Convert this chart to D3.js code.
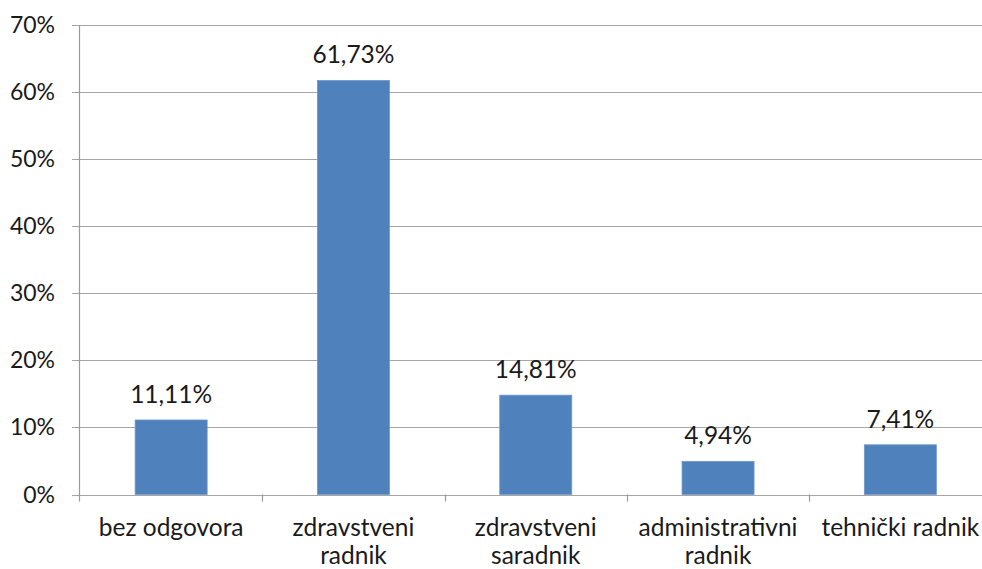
<!DOCTYPE html>
<html>
<head>
<meta charset="utf-8">
<script src="https://cdn.jsdelivr.net/npm/d3@7"></script>
<style>
  html, body { margin: 0; padding: 0; background: #ffffff; }
  svg { display: block; }
  text { font-family: "Lato", "Open Sans", "Liberation Sans", sans-serif; fill: #1a1a1a; }
</style>
</head>
<body>
<svg id="chart" width="982" height="569"></svg>
<script>
const categories = ["bez odgovora", "zdravstveni radnik", "zdravstveni saradnik", "administrativni radnik", "tehnički radnik"];
const values = [11.11, 61.73, 14.81, 4.94, 7.41];
const valueLabels = ["11,11%", "61,73%", "14,81%", "4,94%", "7,41%"];
const yTicks = [0, 10, 20, 30, 40, 50, 60, 70];
const yTickLabels = ["0%", "10%", "20%", "30%", "40%", "50%", "60%", "70%"];

(function () {
const svg = d3.select("#chart");
const mLeft = 80, mRight = 991.5, mTop = 25, mBottom = 494.5;
const tickFont = 23, labelFont = 24.5;

const x = d3.scaleBand().domain(categories).range([mLeft, mRight]).padding(0);
const y = d3.scaleLinear().domain([0, 70]).range([mBottom, mTop]);
const barFrac = 0.395;

// gridlines
svg.append("g").selectAll("line").data(yTicks).join("line")
  .attr("x1", mLeft - 8).attr("x2", mRight)
  .attr("y1", d => Math.round(y(d)) + 0.5).attr("y2", d => Math.round(y(d)) + 0.5)
  .attr("stroke", "#a6a6a6").attr("stroke-width", 1.2);

// y axis line
svg.append("line")
  .attr("x1", mLeft - 0.5).attr("x2", mLeft - 0.5)
  .attr("y1", mTop).attr("y2", mBottom + 7)
  .attr("stroke", "#9a9a9a").attr("stroke-width", 1.2);

// x ticks at band boundaries
const boundaries = categories.map(c => x(c)).slice(1);
svg.append("g").selectAll("line").data(boundaries).join("line")
  .attr("x1", d => Math.round(d) + 0.5).attr("x2", d => Math.round(d) + 0.5)
  .attr("y1", mBottom).attr("y2", mBottom + 7)
  .attr("stroke", "#9a9a9a").attr("stroke-width", 1.2);

// y tick labels
svg.append("g").selectAll("text").data(yTicks).join("text")
  .attr("x", 55).attr("y", d => y(d))
  .attr("dy", "0.35em")
  .attr("text-anchor", "end")
  .attr("font-size", tickFont)
  .text((d, i) => yTickLabels[i]);

// bars
const bw = x.bandwidth() * barFrac;
svg.append("g").selectAll("rect").data(values).join("rect")
  .attr("x", (d, i) => x(categories[i]) + (x.bandwidth() - bw) / 2)
  .attr("width", bw)
  .attr("y", d => y(d))
  .attr("height", d => y(0) - y(d))
  .attr("fill", "#4f81bd")
  .attr("stroke", "#6f97c9").attr("stroke-width", 0.8);

// value labels
svg.append("g").selectAll("text").data(values).join("text")
  .attr("x", (d, i) => x(categories[i]) + x.bandwidth() / 2)
  .attr("y", d => y(d) - 17)
  .attr("text-anchor", "middle")
  .attr("font-size", labelFont)
  .text((d, i) => valueLabels[i]);

// category labels with wrapping
const maxW = x.bandwidth() - 4;
categories.forEach((c, i) => {
  const cx = x(c) + x.bandwidth() / 2;
  const t = svg.append("text")
    .attr("x", cx).attr("y", 535.5)
    .attr("text-anchor", "middle")
    .attr("font-size", labelFont);
  const words = c.split(" ");
  let line = [];
  let tspan = t.append("tspan").attr("x", cx).attr("dy", 0);
  words.forEach(w => {
    line.push(w);
    tspan.text(line.join(" "));
    if (tspan.node().getComputedTextLength() > maxW && line.length > 1) {
      line.pop();
      tspan.text(line.join(" "));
      line = [w];
      tspan = t.append("tspan").attr("x", cx).attr("dy", 28).text(w);
    }
  });
});
})();
</script>
</body>
</html>
